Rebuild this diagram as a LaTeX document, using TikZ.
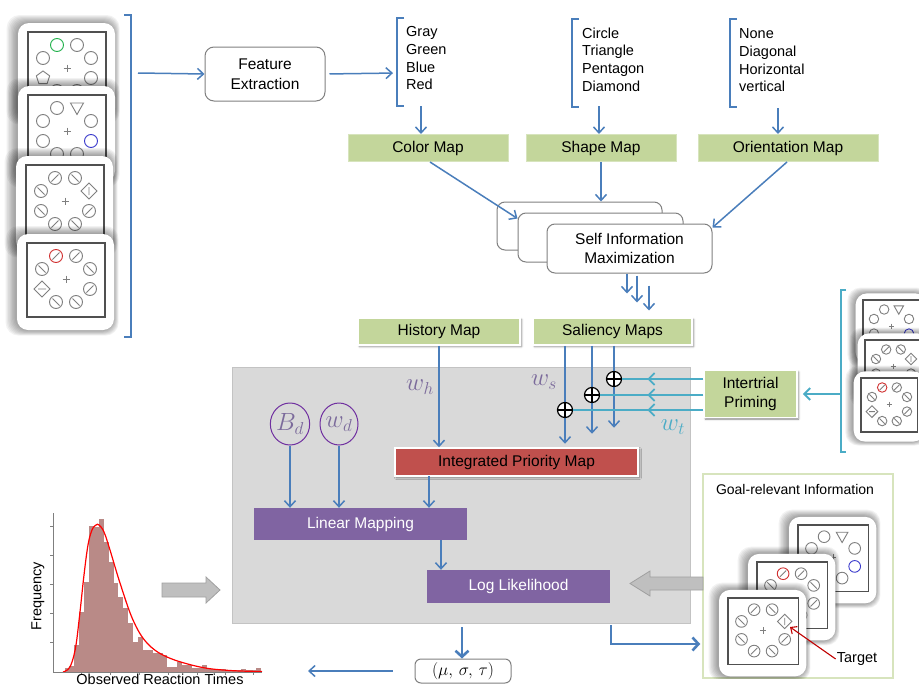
\documentclass[tikz,border=0pt]{standalone}
\usepackage{fontspec}
\setmainfont{Liberation Sans}
\usetikzlibrary{arrows.meta,shadows,shadows.blur,shapes.geometric,decorations.markings,calc}

\definecolor{lineblue}{HTML}{4A7EBB}
\definecolor{primeteal}{HTML}{4BACC6}
\definecolor{mapgreen}{HTML}{C3D69B}
\definecolor{mapedge}{HTML}{D7E4BD}
\definecolor{iprred}{HTML}{C0504D}
\definecolor{boxpurple}{HTML}{8064A2}
\definecolor{regiongray}{HTML}{D9D9D9}
\definecolor{regionedge}{HTML}{C3C3C3}
\definecolor{labelpurple}{HTML}{7B6A9B}
\definecolor{ovalpurple}{HTML}{7030A0}
\definecolor{histbar}{HTML}{B98A87}
\definecolor{itemgray}{HTML}{7F7F7F}
\definecolor{framegray}{HTML}{505050}
\definecolor{blockgray}{HTML}{BFBFBF}
\definecolor{blockedge}{HTML}{A0A0A0}
\definecolor{boxedge}{HTML}{808080}
\definecolor{stimgreen}{HTML}{22B14C}
\definecolor{stimblue}{HTML}{3A3ACC}
\definecolor{stimred}{HTML}{D03030}
\definecolor{targetred}{HTML}{C00000}

% stimulus items, positions in card units (y grows downwards)
\newcommand\stimO[2]{\draw[stimline] (#1,#2) circle (6.5);}
\newcommand\stimC[3]{\draw[stimline,draw=#3] (#1,#2) circle (6.5);}
\newcommand\stimF[2]{\draw[stimline] (#1,#2) circle (6.5) ({#1-3.5},{#2+3.5}) -- ({#1+3.5},{#2-3.5});}
\newcommand\stimRF[2]{\draw[stimline,draw=stimred] (#1,#2) circle (6.5); \draw[stimline] ({#1-3.5},{#2+3.5}) -- ({#1+3.5},{#2-3.5});}
\newcommand\stimB[2]{\draw[stimline] (#1,#2) circle (6.5) ({#1-3.5},{#2-3.5}) -- ({#1+3.5},{#2+3.5});}
\newcommand\stimT[2]{\draw[stimline] ({#1-6.5},{#2-5}) -- ({#1+6.5},{#2-5}) -- (#1,{#2+6.5}) -- cycle;}
\newcommand\stimP[2]{\draw[stimline] (#1,{#2-7}) -- ({#1+6.66},{#2-2.16}) -- ({#1+4.11},{#2+5.66}) -- ({#1-4.11},{#2+5.66}) -- ({#1-6.66},{#2-2.16}) -- cycle;}
\newcommand\stimDV[2]{\draw[stimline] (#1,{#2-8}) -- ({#1+8},#2) -- (#1,{#2+8}) -- ({#1-8},#2) -- cycle (#1,{#2-4}) -- (#1,{#2+4});}
\newcommand\stimDH[2]{\draw[stimline] (#1,{#2-8}) -- ({#1+8},#2) -- (#1,{#2+8}) -- ({#1-8},#2) -- cycle ({#1-4},#2) -- ({#1+4},#2);}

\newcommand\stimsetA{\stimC{29}{13}{stimgreen}\stimO{49}{13}\stimO{15}{26}\stimO{63}{26}\stimP{15}{46}\stimO{63}{46}\stimO{29}{59}\stimO{49}{59}}
\newcommand\stimsetB{\stimO{29}{13}\stimT{49}{13}\stimO{15}{26}\stimO{63}{26}\stimO{15}{46}\stimC{63}{46}{stimblue}\stimO{29}{59}\stimO{49}{59}}
\newcommand\stimsetC{\stimF{29}{13}\stimB{49}{13}\stimB{15}{26}\stimDV{63}{26}\stimB{15}{46}\stimF{63}{46}\stimF{29}{59}\stimB{49}{59}}
\newcommand\stimsetD{\stimRF{29}{13}\stimF{49}{13}\stimB{15}{26}\stimB{63}{26}\stimDH{15}{46}\stimF{63}{46}\stimB{29}{59}\stimB{49}{59}}

% a display card: frame top-left corner, scale, item set
\newcommand\stimcard[4]{%
  \begin{scope}[shift={(#1,#2)},scale=#3]
    % soft haze around the card, heavier on the left
    \foreach \k in {1,...,8}
      \fill[black,opacity=0.05,rounded corners=13pt] ({-11-1.3*\k},{-9-\k}) rectangle ({86+0.7*\k},{87+0.7*\k});
    \fill[white,rounded corners=11pt] (-10,-9) rectangle (87,87);
    \draw[cardframe] (0,0) rectangle (78,74);
    \draw[stimline] (35.5,36) -- (42.5,36) (39,32.5) -- (39,39.5);
    \csname stimset#4\endcsname
  \end{scope}}

\tikzset{
  mainfont/.style={font=\fontsize{15.5}{19.5}\selectfont},
  listfont/.style={font=\fontsize{14.5}{17.7}\selectfont},
  stimline/.style={draw=itemgray,line width=0.9pt},
  cardframe/.style={draw=framegray,line width=1.1pt},
  arr/.style={draw=lineblue,line width=1.5pt,-{Straight Barb[length=6pt,width=11pt]}},
  thickarr/.style={draw=lineblue,line width=2.6pt,-{Straight Barb[length=6pt,width=13pt]}},
  bracketline/.style={draw=lineblue,line width=1.5pt},
  tealline/.style={draw=primeteal,line width=2pt},
  tealarr/.style={draw=primeteal,line width=2pt,-{Straight Barb[length=6pt,width=12pt]}},
  tealmid/.style={postaction={decorate},decoration={markings,mark=at position 56pt with {\arrow[primeteal,line width=1.8pt]{Straight Barb[length=6pt,width=12pt]}}}},
  roundbox/.style={draw=boxedge,line width=1pt,fill=white,rounded corners=9pt,align=center,mainfont,inner sep=0pt},
  sibox/.style={roundbox,minimum width=165pt,minimum height=49pt,rounded corners=8pt},
  mapbox/.style={fill=mapgreen,draw=mapedge,line width=1pt,mainfont,inner sep=0pt,align=center},
  liftbox/.style={draw=white,line width=1.5pt,blur shadow={shadow xshift=1.5pt,shadow yshift=-1.5pt,shadow blur radius=2pt,shadow opacity=50}},
  purplebox/.style={fill=boxpurple,text=white,mainfont,inner sep=0pt},
  oval/.style={ellipse,draw=ovalpurple,line width=1pt,text=labelpurple,inner sep=0pt,font=\fontsize{23}{25}\selectfont},
  wlabel/.style={text=labelpurple,font=\fontsize{23}{25}\selectfont,inner sep=0pt},
  oplus/.style={circle,draw=black,fill=white,line width=1.2pt,minimum size=15pt,inner sep=0pt,
    path picture={\draw[line width=1.1pt] (path picture bounding box.north) -- (path picture bounding box.south) (path picture bounding box.west) -- (path picture bounding box.east);}},
  axisline/.style={draw=itemgray,line width=1pt},
  blockarrow/.style={fill=blockgray,draw=blockedge,line width=0.8pt},
}

\begin{document}
\begin{tikzpicture}[x=1pt,y=-1pt]
\useasboundingbox (0,0) rectangle (919,688);
\clip (0,0) rectangle (919,688);

% model region
\node[fill=regiongray,draw=regionedge,line width=1pt,minimum width=458pt,minimum height=256pt,inner sep=0pt] (model) at (461,495) {};

% input displays on the left
\stimcard{28}{32}{1}{A}
\stimcard{28}{95}{1}{B}
\stimcard{26}{165}{1}{C}
\stimcard{27}{243}{1}{D}
\draw[bracketline] (124,15) -| (131,337) -- (124,337);
\coordinate (lbr) at (138,73);

% feature extraction
\node[roundbox,minimum width=120pt,minimum height=54pt] (fe) at (265,74) {Feature\\Extraction};
\draw[arr] (lbr) -- (fe.west);

% feature value lists
\node[listfont,align=left,anchor=north west,inner sep=0pt] (clist) at (406,26.5) {Gray\\Green\\Blue\\Red};
\node[listfont,align=left,anchor=north west,inner sep=0pt] (slist) at (582,27.5) {Circle\\Triangle\\Pentagon\\Diamond};
\node[listfont,align=left,anchor=north west,inner sep=0pt] (olist) at (739,28.5) {None\\Diagonal\\Horizontal\\vertical};
\draw[bracketline] (404,18) -| (397,106) -- (404,106);
\draw[bracketline] (579,19) -| (572,107) -- (579,107);
\draw[bracketline] (737,19) -| (730,107) -- (737,107);
\coordinate (cbr) at (397,73);
\draw[arr,shorten <=4pt,shorten >=4pt] (fe.east) -- (cbr);

% feature maps
\node[mapbox,minimum width=160pt,minimum height=27pt] (cmap) at (428,148) {Color Map};
\node[mapbox,minimum width=150pt,minimum height=27pt] (smap) at (601,148) {Shape Map};
\node[mapbox,minimum width=180pt,minimum height=27pt] (omap) at (788,148) {Orientation Map};
\coordinate (cfoot) at (421,106);
\coordinate (sfoot) at (599,106);
\coordinate (ofoot) at (778,108);
\draw[arr] (cfoot) -- (cfoot |- cmap.north);
\draw[arr] (sfoot) -- (sfoot |- smap.north);
\draw[arr] (ofoot) -- (ofoot |- omap.north);

% self information maximization stack
\node[sibox,minimum height=48pt] (si1) at (579.5,226) {};
\node[sibox] (si2) at (600.5,237.5) {};
\node[sibox] (si3) at (629.5,248.5) {Self Information\\Maximization};
\draw[arr] ([xshift=2pt]cmap.south) -- ([yshift=-6pt]si2.north west);
\draw[arr] (smap.south) -- (smap.south |- si1.north);
\draw[arr] ([xshift=-1pt]omap.south) -- ([yshift=-4pt]si3.north east);
\draw[arr] ([xshift=-2.5pt]si3.south) -- ++(0,20);
\draw[arr] ([xshift=7.5pt,yshift=-2pt]si3.south) -- ++(0,27);
\draw[arr] ([xshift=19.5pt,yshift=-12pt]si3.south) -- ++(0,25);

% history and saliency
\node[mapbox,liftbox,minimum width=162pt,minimum height=27pt] (hmap) at (439,331.5) {History Map};
\node[mapbox,liftbox,minimum width=159pt,minimum height=27pt] (smaps) at (612.5,331.5) {Saliency Maps};
\node[fill=iprred,liftbox,mainfont,inner sep=0pt,minimum width=243pt,minimum height=28pt] (ipm) at (516.5,462) {Integrated Priority Map};
\draw[arr] (hmap.south) -- (hmap.south |- ipm.north);
\node[wlabel] (wh) at (420,387) {$w_h$};
\node[wlabel] (ws) at (544,382) {$w_s$};

% intertrial priming
\coordinate (op1pos) at (614,379);
\coordinate (op2pos) at (592,395);
\coordinate (op3pos) at (565,410);
\draw[arr] (op3pos |- smaps.south) -- ++(0,98);
\draw[arr] (op2pos |- smaps.south) -- ++(0,88);
\draw[arr] (op1pos |- smaps.south) -- ++(0,82);
\node[mapbox,liftbox,minimum width=93pt,minimum height=47pt] (ip) at (750.5,394) {Intertrial\\Priming};
\node[oplus] (op1) at (op1pos) {};
\node[oplus] (op2) at (op2pos) {};
\node[oplus] (op3) at (op3pos) {};
\draw[tealline,tealmid] (ip.west |- op1) -- (op1.east);
\draw[tealline,tealmid] (ip.west |- op2) -- (op2.east);
\draw[tealline,tealmid] (ip.west |- op3) -- (op3.east);
\node[wlabel,text=primeteal] (wt) at (673,427) {$w_t$};

% primed displays on the right
\stimcard{863}{300}{0.73}{B}
\stimcard{865}{340}{0.73}{C}
\stimcard{861}{378}{0.73}{D}
\draw[tealline] (846,290) -| (841,452) -- (846,452);
\coordinate (rbr) at (841,394);
\draw[tealarr,shorten >=5pt] (rbr) -- (ip.east);

% parameters and mapping
\node[oval,minimum width=37pt,minimum height=42pt] (bd) at (290,424) {$B_d$};
\node[oval,minimum width=38pt,minimum height=42pt] (wd) at (339,424) {$w_d$};
\node[purplebox,minimum width=213pt,minimum height=32pt] (lin) at (360.5,524) {Linear Mapping};
\node[purplebox,minimum width=183pt,minimum height=33pt] (loglik) at (518.5,586.5) {Log Likelihood};
\draw[arr] (bd.south) -- (bd.south |- lin.north);
\draw[arr] (wd.south) -- (wd.south |- lin.north);
\coordinate (ipmfoot) at (429,476);
\coordinate (linfoot) at (441,540);
\draw[arr] (ipmfoot) -- (ipmfoot |- lin.north);
\draw[arr] (linfoot) -- (linfoot |- loglik.north);

% estimated parameters
\node[roundbox,minimum width=96pt,minimum height=24pt,rounded corners=6pt,font=\fontsize{19}{21}\selectfont] (mst) at (463,671) {$(\mu,\,\sigma,\,\tau)$};
\coordinate (modelfoot) at (462,627);
\draw[thickarr] (modelfoot) -- (modelfoot |- mst.north);

% observed reaction times
\foreach \h [count=\i from 0] in {4,6,27,60,90,146,145,153,130,110,89,75,64,49,30,35,22,22,19,19,17,5,5,10,7,7,4,4,7,3,3,2,3,2,2,2,3,2,2,4}
  \fill[histbar] ({64.5+4.9*\i},672) rectangle ++(4.9,-\h);
\draw[red,line width=1.2pt] plot[smooth,tension=0.6] coordinates {(63,672) (68,669.5) (72,662) (76,645) (80,612) (84,575) (88,545) (92,530) (96,525) (99,525) (104,532) (110,550) (120,583) (133,620) (147,643) (167,657) (200,667) (230,670.5) (262,671.5)};
\draw[axisline] (53,513) -- (53,672) -- (262,672);
\foreach \y in {526,555,584,613,642} \draw[axisline] (50,\y) -- (53,\y);
\foreach \x in {81,110,139,168,197,225,253} \draw[axisline] (\x,672) -- (\x,675);
\node[rotate=90,listfont,inner sep=0pt] (freq) at (38,596) {Frequency};
\node[listfont,inner sep=0pt] (rtlabel) at (160,679.5) {Observed Reaction Times};
\coordinate (histend) at (308,671);
\draw[arr,shorten <=22pt] (mst.west) -- (histend);
\draw[blockarrow] (162,583) -- (206,583) -- (206,577) -- (220,590) -- (206,603) -- (206,597) -- (162,597) -- cycle;

% goal-relevant information
\node[draw=mapedge,line width=1.5pt,fill=white,minimum width=190pt,minimum height=204pt,inner sep=0pt] (goal) at (798,576) {};
\node[font=\fontsize{14}{16}\selectfont,inner sep=0pt] (goaltitle) at (795,489) {Goal-relevant Information};
\begin{scope}
\clip (goal.north west) rectangle (goal.south east);
\stimcard{798}{525}{0.9}{B}
\stimcard{757}{562}{0.9}{D}
\stimcard{728}{598}{0.9}{C}
\end{scope}
\node[listfont,inner sep=1pt] (target) at (857,659) {Target};
\coordinate (tgtpt) at (790,627);
\draw[targetred,line width=1.1pt,-{Straight Barb[length=5pt,width=9pt]}] (target.west) -- (tgtpt);
\draw[blockarrow] (703,577) -- (650,577) -- (650,571) -- (630,583.5) -- (650,596) -- (650,590) -- (703,590) -- cycle;
\coordinate (modelcorner) at (611,625);
\draw[thickarr,shorten >=2pt] (modelcorner) |- ([yshift=-68pt]goal.west);
\end{tikzpicture}
\end{document}
